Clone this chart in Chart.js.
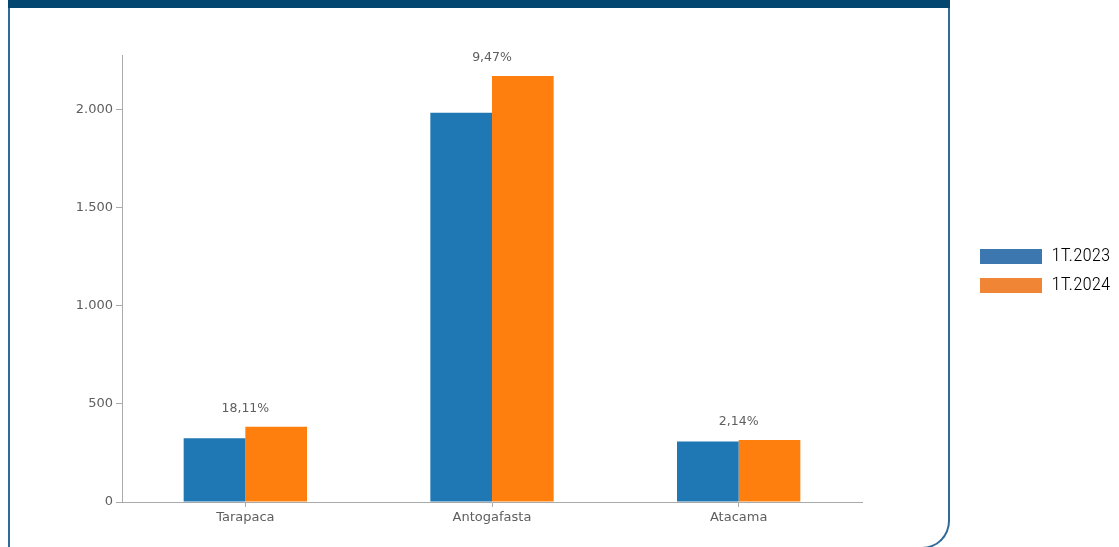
<!DOCTYPE html>
<html>
<head>
<meta charset="utf-8">
<script src="https://cdn.jsdelivr.net/npm/chart.js@4"></script>
<style>
  html, body { margin: 0; padding: 0; background: #fff; }
  body { width: 1119px; height: 547px; position: relative; overflow: hidden; }
  .panel {
    position: absolute; left: 8px; top: 0; width: 938px; height: 547px;
    border: 2px solid #2f6a99; border-top: none; border-bottom-right-radius: 28px;
  }
  .header { position: absolute; left: 8px; top: 0; width: 942px; height: 8px; background: #03466f; }
  #chart { position: absolute; left: 0; top: 0; }
</style>
</head>
<body>
<div class="panel"></div>
<div class="header"></div>
<canvas id="chart" width="1119" height="547"></canvas>
<script>
const regions = ["Tarapaca", "Antogafasta", "Atacama"];
const seriesNames = ["1T.2023", "1T.2024"];
const values2023 = [325, 1985, 309];
const values2024 = [384, 2173, 316];
const growthLabels = ["18,11%", "9,47%", "2,14%"];
const yTicks = [0, 500, 1000, 1500, 2000];

const BAR_COLORS = ["#1f77b4", "#ff7f0e"];
const LEGEND_COLORS = ["#3c77b0", "#f08536"];
const TEXT_FONT = '"DejaVu Sans", Verdana, sans-serif';

function formatThousands(v) {
  return String(v).replace(/\B(?=(\d{3})+(?!\d))/g, ".");
}

// growth % above each pair of bars
const growthLabelPlugin = {
  id: "growthLabels",
  afterDatasetsDraw(chart) {
    const { ctx } = chart;
    const x = chart.scales.x;
    const y = chart.scales.y;
    ctx.save();
    ctx.font = "12.5px " + TEXT_FONT;
    ctx.fillStyle = "#5e5e5e";
    ctx.textAlign = "center";
    ctx.textBaseline = "middle";
    growthLabels.forEach((label, i) => {
      const top = y.getPixelForValue(Math.max(values2023[i], values2024[i]));
      ctx.fillText(label, x.getPixelForValue(i), top - 18);
    });
    ctx.restore();
  },
};

// legend sits far right, outside the framed panel
const legendSpacer = {
  id: "legendSpacer",
  beforeInit(chart) {
    const fit = chart.legend.fit;
    chart.legend.fit = function () {
      fit.call(this);
      this.width = 1119 - 862;
    };
  },
  afterLayout(chart) {
    const lg = chart.legend;
    lg.left = 970;
    lg.width = 1119 - 970;
    lg.right = 1119;
    lg.top -= 30;
    lg.bottom -= 30;
  },
};

new Chart(document.getElementById("chart"), {
  type: "bar",
  data: {
    labels: regions,
    datasets: [
      { label: seriesNames[0], data: values2023, backgroundColor: BAR_COLORS[0] },
      { label: seriesNames[1], data: values2024, backgroundColor: BAR_COLORS[1] },
    ],
  },
  options: {
    responsive: false,
    animation: false,
    layout: { padding: { top: 55, left: 0, right: 0, bottom: 0 } },
    datasets: { bar: { categoryPercentage: 0.5, barPercentage: 1 } },
    plugins: {
      tooltip: { enabled: false },
      legend: {
        position: "right",
        labels: {
          boxWidth: 62,
          boxHeight: 15,
          padding: 10,
          color: "#666",
          font: { family: '"Liberation Sans Narrow", "Roboto Condensed", Roboto, sans-serif', size: 19, weight: "300" },
          generateLabels: (chart) =>
            chart.data.datasets.map((ds, i) => ({
              text: ds.label,
              fillStyle: LEGEND_COLORS[i],
              strokeStyle: LEGEND_COLORS[i],
              lineWidth: 0,
              datasetIndex: i,
              hidden: false,
            })),
        },
      },
    },
    scales: {
      x: {
        grid: { offset: false, drawOnChartArea: false, tickLength: 5, color: "#aaa" },
        border: { color: "#aaa" },
        ticks: { color: "#5e5e5e", font: { family: TEXT_FONT, size: 13 }, padding: 3 },
        afterFit: (scale) => { scale.height = 45; },
      },
      y: {
        min: 0,
        max: 2280,
        grid: { drawOnChartArea: false, tickLength: 6, color: "#aaa" },
        border: { color: "#aaa" },
        ticks: {
          color: "#5e5e5e",
          padding: 3,
          font: { family: TEXT_FONT, size: 13 },
          callback: (v) => formatThousands(v),
        },
        afterBuildTicks: (scale) => { scale.ticks = yTicks.map((v) => ({ value: v })); },
        afterFit: (scale) => { scale.width = 122; },
      },
    },
  },
  plugins: [growthLabelPlugin, legendSpacer],
});
</script>
</body>
</html>
